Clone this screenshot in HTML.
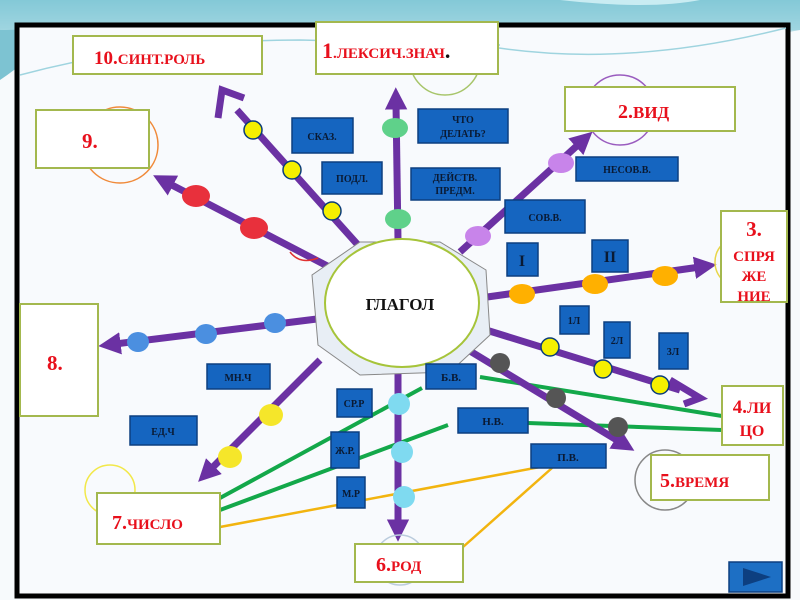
<!DOCTYPE html>
<html><head><meta charset="utf-8"><style>
html,body{margin:0;padding:0;background:#fff}
svg{display:block}
text{font-family:"Liberation Serif",serif;font-weight:bold}
</style></head><body>
<svg width="800" height="600" viewBox="0 0 800 600" xmlns="http://www.w3.org/2000/svg">
<defs>
<linearGradient id="sky" x1="0" y1="0" x2="0" y2="1"><stop offset="0" stop-color="#8ccfdc"/><stop offset="1" stop-color="#cfeef3"/></linearGradient>
<marker id="ah" markerWidth="3.2" markerHeight="3.2" refX="0.8" refY="1.6" orient="auto" markerUnits="strokeWidth"><path d="M0,0 L3.2,1.6 L0,3.2 Z" fill="#6b31a3"/></marker>
</defs>
<rect width="800" height="600" fill="#f7fafc"/>
<path d="M0,0 H800 V30 H0 Z" fill="url(#sky)"/>
<path d="M0,30 Q200,20 420,40 T800,30 V0 H0Z" fill="#7fc4d3" opacity="0.6"/>
<path d="M0,0 H560 Q650,10 700,0Z" fill="#c9ecf2"/>
<path d="M0,80 L0,30 L60,28 Q30,60 0,80Z" fill="#7dc3d2"/>
<rect x="17" y="25" width="771" height="571" fill="#f8fafd" stroke="#000" stroke-width="5"/>
<path d="M20,75 Q150,40 300,40 L500,45" stroke="#9fd4df" stroke-width="1.5" fill="none"/>
<path d="M480,45 Q620,70 786,28" stroke="#9fd4df" stroke-width="1.5" fill="none"/>

<g stroke-width="4" fill="none">
<line x1="220" y1="498" x2="422" y2="388" stroke="#13a84a"/>
<line x1="220" y1="510" x2="448" y2="425" stroke="#13a84a"/>
<line x1="480" y1="377" x2="722" y2="416" stroke="#13a84a"/>
<line x1="528" y1="423" x2="722" y2="430" stroke="#13a84a"/>
</g>
<g stroke="#f2b40f" stroke-width="2.5" fill="none">
<line x1="220" y1="527" x2="540" y2="467"/>
<line x1="552" y1="468" x2="463" y2="547"/>
</g>

<g stroke="#6b31a3" stroke-width="7" fill="none" marker-end="url(#ah)">
<line x1="398" y1="240" x2="396" y2="104"/>
<line x1="335" y1="270" x2="168" y2="183"/>
<line x1="460" y1="252" x2="580" y2="143"/>
<line x1="480" y1="298" x2="700" y2="267"/>
<line x1="325" y1="318" x2="115" y2="344"/>
<line x1="465" y1="348" x2="620" y2="442"/>
<line x1="398" y1="370" x2="398" y2="525"/>
<line x1="320" y1="360" x2="210" y2="470"/>
</g>
<g stroke="#6b31a3" stroke-width="7" fill="none">
<line x1="358" y1="245" x2="237" y2="110"/>
<path d="M218,118 L222,90 L244,98"/>
<line x1="470" y1="325" x2="680" y2="390"/>
<path d="M670,380 L700,398 L684,404"/>
</g>
<path d="M290,252 Q300,265 318,258" stroke="#e03030" stroke-width="1.5" fill="none"/>

<g fill="none" stroke-width="1.5">
<circle cx="120" cy="145" r="38" stroke="#f08a3a"/>
<circle cx="620" cy="110" r="35" stroke="#9a5cbf"/>
<circle cx="445" cy="60" r="35" stroke="#a7c56a"/>
<circle cx="740" cy="262" r="25" stroke="#e8d64a"/>
<circle cx="110" cy="490" r="25" stroke="#f2e84a"/>
<circle cx="665" cy="480" r="30" stroke="#888"/>
<circle cx="400" cy="560" r="25" stroke="#bcd"/>
</g>

<g stroke="#0b3d7a" stroke-width="1.5" fill="#f5f000">
<circle cx="253" cy="130" r="9"/><circle cx="292" cy="170" r="9"/><circle cx="332" cy="211" r="9"/>
<circle cx="550" cy="347" r="9"/><circle cx="603" cy="369" r="9"/><circle cx="660" cy="385" r="9"/>
</g>
<g stroke="none">
<ellipse cx="196" cy="196" rx="14" ry="11" fill="#e8303c"/>
<ellipse cx="254" cy="228" rx="14" ry="11" fill="#e8303c"/>
<ellipse cx="395" cy="128" rx="13" ry="10" fill="#5fd18a"/>
<ellipse cx="398" cy="219" rx="13" ry="10" fill="#5fd18a"/>
<ellipse cx="561" cy="163" rx="13" ry="10" fill="#c884ea"/>
<ellipse cx="478" cy="236" rx="13" ry="10" fill="#c884ea"/>
<ellipse cx="522" cy="294" rx="13" ry="10" fill="#ffb000"/>
<ellipse cx="595" cy="284" rx="13" ry="10" fill="#ffb000"/>
<ellipse cx="665" cy="276" rx="13" ry="10" fill="#ffb000"/>
<ellipse cx="138" cy="342" rx="11" ry="10" fill="#4b8fe0"/>
<ellipse cx="206" cy="334" rx="11" ry="10" fill="#4b8fe0"/>
<ellipse cx="275" cy="323" rx="11" ry="10" fill="#4b8fe0"/>
<ellipse cx="271" cy="415" rx="12" ry="11" fill="#f5e62a"/>
<ellipse cx="230" cy="457" rx="12" ry="11" fill="#f5e62a"/>
<ellipse cx="399" cy="404" rx="11" ry="11" fill="#7fdaf0"/>
<ellipse cx="402" cy="452" rx="11" ry="11" fill="#7fdaf0"/>
<ellipse cx="404" cy="497" rx="11" ry="11" fill="#7fdaf0"/>
<circle cx="500" cy="363" r="10" fill="#555"/>
<circle cx="556" cy="398" r="10" fill="#555"/>
<circle cx="618" cy="427" r="10" fill="#555"/>
</g>

<polygon points="360,242 440,242 486,270 490,335 450,372 360,375 318,345 312,275" fill="#e8eef5" stroke="#888" stroke-width="1"/>
<ellipse cx="402" cy="303" rx="77" ry="64" fill="#fff" stroke="#a6c43a" stroke-width="2"/>
<text x="400" y="310" font-size="17" text-anchor="middle" fill="#111">ГЛАГОЛ</text>

<g fill="#fff" stroke="#a3b84e" stroke-width="2">
<rect x="73" y="36" width="189" height="38"/>
<rect x="316" y="22" width="182" height="52"/>
<rect x="36" y="110" width="113" height="58"/>
<rect x="565" y="87" width="170" height="44"/>
<rect x="721" y="211" width="66" height="91"/>
<rect x="20" y="304" width="78" height="112"/>
<rect x="722" y="386" width="61" height="59"/>
<rect x="651" y="455" width="118" height="45"/>
<rect x="97" y="493" width="123" height="51"/>
<rect x="355" y="544" width="108" height="38"/>
</g>
<g fill="#e8101c" font-size="19">
<text x="94" y="64">10.<tspan font-size="15">СИНТ.РОЛЬ</tspan></text>
<text x="322" y="58" font-size="22">1<tspan font-size="15">.ЛЕКСИЧ.ЗНАЧ</tspan><tspan fill="#111">.</tspan></text>
<text x="82" y="148" font-size="21">9.</text>
<text x="618" y="118" font-size="20">2.<tspan font-size="17">ВИД</tspan></text>
<text x="754" y="236" font-size="21" text-anchor="middle">3.</text>
<text x="754" y="261" font-size="15" text-anchor="middle">СПРЯ</text>
<text x="754" y="281" font-size="15" text-anchor="middle">ЖЕ</text>
<text x="754" y="301" font-size="15" text-anchor="middle">НИЕ</text>
<text x="47" y="370" font-size="21">8.</text>
<text x="752" y="413" font-size="19" text-anchor="middle">4.<tspan font-size="16">ЛИ</tspan></text>
<text x="752" y="436" font-size="16" text-anchor="middle">ЦО</text>
<text x="660" y="487" font-size="20">5.<tspan font-size="15">ВРЕМЯ</tspan></text>
<text x="112" y="529" font-size="20">7.<tspan font-size="15">ЧИСЛО</tspan></text>
<text x="376" y="571" font-size="20">6.<tspan font-size="15">РОД</tspan></text>
</g>

<g fill="#1565c0" stroke="#0d3f80" stroke-width="1.5">
<rect x="292" y="118" width="61" height="35"/>
<rect x="322" y="162" width="60" height="32"/>
<rect x="418" y="109" width="90" height="34"/>
<rect x="411" y="168" width="89" height="32"/>
<rect x="576" y="157" width="102" height="24"/>
<rect x="505" y="200" width="80" height="33"/>
<rect x="507" y="243" width="31" height="33"/>
<rect x="592" y="240" width="36" height="32"/>
<rect x="560" y="306" width="29" height="28"/>
<rect x="604" y="322" width="26" height="36"/>
<rect x="659" y="333" width="29" height="36"/>
<rect x="207" y="364" width="63" height="25"/>
<rect x="130" y="416" width="67" height="29"/>
<rect x="337" y="389" width="35" height="28"/>
<rect x="331" y="432" width="28" height="36"/>
<rect x="337" y="477" width="28" height="31"/>
<rect x="426" y="364" width="50" height="25"/>
<rect x="458" y="408" width="70" height="25"/>
<rect x="531" y="444" width="75" height="24"/>
<rect x="729" y="562" width="53" height="30" fill="#1d6fc4"/>
</g>
<polygon points="743,568 771,577 743,586" fill="#0d3f80"/>
<g fill="#0a1a33" font-size="10" text-anchor="middle">
<text x="322" y="140">СКАЗ.</text>
<text x="352" y="182">ПОДЛ.</text>
<text x="463" y="123">ЧТО</text><text x="463" y="137">ДЕЛАТЬ?</text>
<text x="455" y="181">ДЕЙСТВ.</text><text x="455" y="194">ПРЕДМ.</text>
<text x="627" y="173">НЕСОВ.В.</text>
<text x="545" y="221">СОВ.В.</text>
<text x="522" y="266" font-size="16">I</text>
<text x="610" y="262" font-size="16">II</text>
<text x="574" y="324">1Л</text>
<text x="617" y="344">2Л</text>
<text x="673" y="355">3Л</text>
<text x="238" y="381">МН.Ч</text>
<text x="163" y="435">ЕД.Ч</text>
<text x="354" y="407">СР.Р</text>
<text x="345" y="454">Ж.Р.</text>
<text x="351" y="497">М.Р</text>
<text x="451" y="381" font-size="11">Б.В.</text>
<text x="493" y="425" font-size="11">Н.В.</text>
<text x="568" y="461" font-size="11">П.В.</text>
</g>
</svg>
</body></html>
